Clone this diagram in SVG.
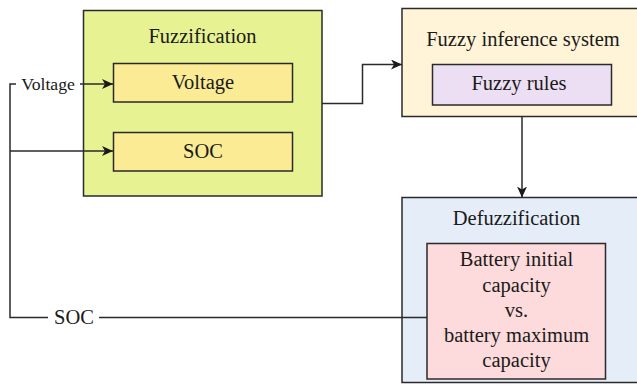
<svg xmlns="http://www.w3.org/2000/svg" width="637" height="386" viewBox="0 0 637 386">
<defs>
<marker id="ah" markerWidth="12" markerHeight="10" refX="11" refY="5" orient="auto" markerUnits="userSpaceOnUse">
<path d="M0,0 L11,5 L0,10 L3,5 Z" fill="#1a1a1a"/>
</marker>
</defs>
<style>
.box{stroke:#2a2a2a;stroke-width:1.5}
text{font-family:"Liberation Serif","Times New Roman",serif;fill:#1a1a1a;text-anchor:middle}
.lg{font-size:20.5px}
.sm{font-size:17.7px}
.ln{fill:none;stroke:#2a2a2a;stroke-width:1.5}
</style>
<rect width="637" height="386" fill="#ffffff"/>
<g id="fuzzification">
<rect class="box" x="83.5" y="10.5" width="238.5" height="185.5" fill="#e7f293"/>
<text class="lg" x="202.5" y="43">Fuzzification</text>
</g>
<g id="voltage">
<rect class="box" x="113.5" y="63.5" width="179" height="38.5" fill="#fbeb95"/>
<text class="lg" x="203" y="89">Voltage</text>
</g>
<g id="soc">
<rect class="box" x="113.5" y="132.5" width="179" height="38.5" fill="#fbeb95"/>
<text class="lg" x="203" y="158">SOC</text>
</g>
<g id="fis">
<rect class="box" x="402" y="8.5" width="240" height="108" fill="#fff4d8"/>
<text class="lg" x="523" y="46">Fuzzy inference system</text>
</g>
<g id="fuzzy-rules">
<rect class="box" x="432.5" y="64.5" width="179" height="40.5" fill="#eddff3"/>
<text class="lg" x="519" y="90">Fuzzy rules</text>
</g>
<g id="defuzzification">
<rect class="box" x="402" y="197.5" width="240" height="185" fill="#e5edf8"/>
<text class="lg" x="516.5" y="225">Defuzzification</text>
</g>
<g id="battery">
<rect class="box" x="427" y="243.5" width="178.5" height="135.5" fill="#fddadb"/>
<text class="lg" x="516.5" y="266">Battery initial</text>
<text class="lg" x="516.5" y="291.5">capacity</text>
<text class="lg" x="516.5" y="316.5">vs.</text>
<text class="lg" x="516.5" y="342">battery maximum</text>
<text class="lg" x="516.5" y="367">capacity</text>
</g>
<g id="connectors">
<path class="ln" d="M16,84 H10 V317.5 H48"/>
<text class="sm" x="48" y="90">Voltage</text>
<path class="ln" d="M80,84 H113" marker-end="url(#ah)"/>
<path class="ln" d="M10,151 H113" marker-end="url(#ah)"/>
<text class="lg" x="74" y="324">SOC</text>
<path class="ln" d="M99,317.5 H427"/>
<path class="ln" d="M322,103.5 H362.5 V64.5 H402" marker-end="url(#ah)"/>
<path class="ln" d="M522,116.5 V197.5" marker-end="url(#ah)"/>
</g>
</svg>
